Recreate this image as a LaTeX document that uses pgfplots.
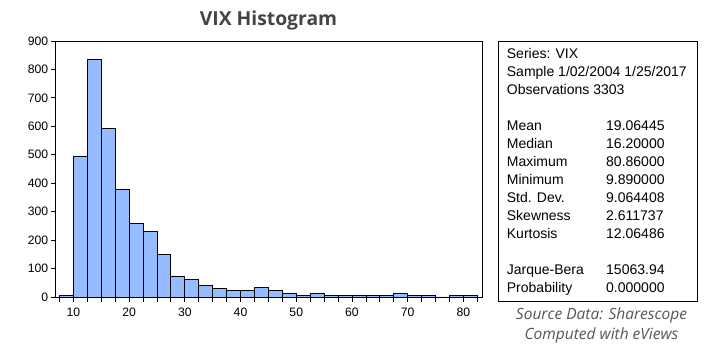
\documentclass[border=0pt]{standalone}
\usepackage{fontspec}
\setmainfont{Liberation Sans}
\newfontfamily\opensans{Open Sans}
\usepackage{pgfplots}
\pgfplotsset{compat=1.18}
\definecolor{barblue}{RGB}{150,188,255}
\definecolor{titlegray}{RGB}{68,68,68}
\definecolor{srcgray}{RGB}{85,85,85}
\begin{document}
\begin{tikzpicture}
\path[use as bounding box] (0pt,0pt) rectangle (720pt,355pt);
\begin{axis}[
  at={(55.7pt,58pt)}, anchor=south west,
  scale only axis, width=426.6pt, height=256pt,
  xmin=6.84, xmax=83.38, ymin=0, ymax=900,
  ytick={0,100,...,900},
  xtick={10,20,...,80},
  minor xtick={7.5,12.5,15,17.5,22.5,25,27.5,32.5,35,37.5,42.5,45,47.5,52.5,55,57.5,62.5,65,67.5,72.5,75,77.5,82.5},
  tick align=outside,
  major tick length=5pt, minor tick length=5pt,
  every tick/.style={black, line width=0.8pt},
  xtick pos=lower, ytick pos=left,
  axis line style={line width=0.8pt},
  tick label style={font=\fontsize{12.2}{14}\selectfont},
  yticklabel style={xshift=1pt},
  xticklabel style={yshift=-2pt},
  /pgf/number format/assume math mode=true,
]
\addplot[ybar interval, fill=barblue, draw=black, line width=0.8pt] coordinates {
(7.5,7) (10,496) (12.5,835) (15,591) (17.5,377) (20,257) (22.5,229) (25,148)
(27.5,74) (30,63) (32.5,42) (35,31) (37.5,24) (40,24) (42.5,32) (45,22)
(47.5,11) (50,7) (52.5,11) (55,7) (57.5,7) (60,4) (62.5,7) (65,4)
(67.5,11) (70,4) (72.5,4) (75,0) (77.5,4) (80,4) (82.5,0)
};
\end{axis}
\begin{scope}[x=1pt,y=1pt]
\node[anchor=base, inner sep=0, font=\opensans\bfseries\fontsize{19.3}{22}\selectfont, text=titlegray] at (268.5,329) {VIX Histogram};
\draw[line width=0.8pt] (498,53.3) rectangle (697,313.3);
\begin{scope}[every node/.style={anchor=base west, inner sep=0, font=\fontsize{14}{18}\selectfont}]
\node at (506.7,296.7) {Series: VIX};
\node at (506.7,278.7) {Sample 1/02/2004 1/25/2017};
\node at (506.7,260.7) {Observations 3303};
\node at (506.7,224.7) {Mean};
\node at (506.7,206.7) {Median};
\node at (506.7,188.7) {Maximum};
\node at (506.7,170.7) {Minimum};
\node at (506.7,152.7) {Std. Dev.};
\node at (506.7,134.7) {Skewness};
\node at (506.7,116.7) {Kurtosis};
\node at (506.7,80.7) {Jarque-Bera};
\node at (506.7,62.7) {Probability};
\node at (606,224.7) {19.06445};
\node at (606,206.7) {16.20000};
\node at (606,188.7) {80.86000};
\node at (606,170.7) {9.890000};
\node at (606,152.7) {9.064408};
\node at (606,134.7) {2.611737};
\node at (606,116.7) {12.06486};
\node at (606,80.7) {15063.94};
\node at (606,62.7) {0.000000};
\end{scope}
\node[anchor=base, inner sep=0, font=\opensans\itshape\fontsize{15.5}{18}\selectfont, text=srcgray] at (601.5,35) {Source Data: Sharescope};
\node[anchor=base, inner sep=0, font=\opensans\itshape\fontsize{15.5}{18}\selectfont, text=srcgray] at (601.5,15.7) {Computed with eViews};
\end{scope}
\end{tikzpicture}
\end{document}
